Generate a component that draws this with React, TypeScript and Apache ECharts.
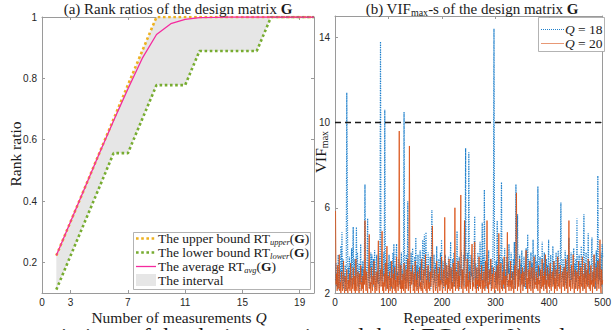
import React, { useEffect, useRef } from "react";
import * as echarts from "echarts";

// ---------- Panel (a): rank ratios ----------
const measurementsQ = [2, 3, 4, 5, 6, 7, 8, 9, 10, 11, 12, 13, 14, 15, 16, 17, 18, 19, 20];
const upperBound = [0.222, 0.333, 0.444, 0.556, 0.667, 0.778, 0.889, 1, 1, 1, 1, 1, 1, 1, 1, 1, 1, 1, 1];
const lowerBound = [0.111, 0.222, 0.333, 0.444, 0.556, 0.556, 0.667, 0.778, 0.778, 0.778, 0.889, 0.889, 0.889, 0.889, 0.889, 1, 1, 1, 1];
const averageRT = [0.222, 0.333, 0.444, 0.555, 0.662, 0.765, 0.865, 0.943, 0.978, 0.992, 0.998, 0.999, 1, 1, 1, 1, 1, 1, 1];
const qTicks = [1, 3, 7, 11, 15, 19];
const qTickLabels = ["0", "3", "7", "11", "15", "19"];
const rankTicks = [0.2, 0.4, 0.6, 0.8, 1];

// ---------- Panel (b): VIF max ----------
const vifTicks = [2, 6, 10, 14];
const vifThreshold = 10;
const vifQ18 = [
  2.6, 3.4, 2.3, 2.9, 2.2, 3.8, 2.5, 2.1, 3.1, 2.4, 4.2, 2.7, 4.85, 2.3, 3.6, 2.2, 2.9, 2.5, 3.3, 2.1, 2.8, 11.4, 7.0, 2.4, 3.2,
  2.2, 3.7, 2.5, 3.0, 2.3, 4.1, 2.6, 3.3, 5.1, 2.4, 2.9, 3.6, 2.2, 3.1, 5.1, 2.7, 3.9, 2.3, 2.8, 3.4, 2.1, 3.0, 4.3, 2.5, 3.2,
  2.4, 3.5, 2.2, 2.9, 3.8, 7.1, 2.6, 3.2, 2.3, 3.7, 5.5, 2.5, 3.0, 2.2, 3.4, 2.7, 3.9, 2.4, 3.8, 3.1, 2.3, 3.6, 2.6, 4.0, 2.9,
  2.2, 3.3, 3.8, 2.5, 3.0, 2.4, 3.7, 2.2, 4.4, 13.8, 2.6, 3.5, 2.3, 3.1, 2.8, 3.9, 2.4, 10.6, 3.2, 2.5, 3.6, 2.2, 3.0, 3.4, 2.6,
  3.8, 2.3, 2.9, 3.5, 2.2, 3.1, 2.7, 3.9, 2.4, 4.3, 2.6, 3.3, 2.2, 3.7, 4.3, 2.5, 3.0, 2.3, 3.6, 2.8, 2.4, 3.4, 2.2, 3.9, 2.7,
  3.1, 2.4, 3.6, 10.5, 2.6, 3.3, 2.2, 3.8, 2.9, 2.5, 6.3, 3.0, 2.3, 3.5, 2.7, 2.2, 3.9, 2.6, 3.2, 4.1, 2.4, 3.0, 2.3, 3.7, 2.8,
  4.6, 2.5, 3.3, 2.2, 3.8, 2.7, 3.1, 2.3, 4.0, 2.6, 3.4, 2.2, 3.6, 4.5, 2.4, 3.0, 4.75, 2.8, 3.5, 4.85, 2.3, 3.2, 2.6, 3.9, 2.4,
  3.0, 2.5, 3.7, 2.2, 3.3, 5.9, 2.7, 3.1, 2.3, 3.8, 2.5, 2.9, 3.4, 2.2, 4.2, 2.6, 3.2, 2.4, 3.6, 2.8, 2.3, 3.9, 2.5, 4.5, 3.0,
  2.4, 3.5, 2.2, 3.1, 2.7, 3.8, 2.3, 3.4, 2.6, 3.0, 2.2, 3.7, 2.5, 3.3, 2.8, 4.4, 2.4, 3.1, 2.2, 3.6, 2.7, 3.9, 2.3, 3.2, 2.5,
  3.4, 2.6, 4.9, 2.3, 3.0, 2.5, 3.7, 2.2, 3.3, 2.8, 4.0, 2.4, 3.1, 2.6, 3.8, 2.3, 5.4, 3.5, 8.8, 2.7, 3.2, 2.4, 3.9, 2.6, 8.6,
  2.5, 3.3, 2.2, 3.8, 2.8, 3.0, 2.4, 3.6, 2.6, 4.1, 5.6, 2.3, 3.4, 2.7, 3.1, 2.2, 3.9, 2.5, 3.2, 2.8, 4.4, 2.3, 3.5, 2.6, 5.3,
  2.4, 3.7, 2.9, 6.85, 2.5, 3.2, 2.2, 3.8, 2.6, 3.4, 2.3, 4.0, 2.7, 3.1, 2.4, 3.6, 2.2, 3.3, 2.8, 3.9, 6.1, 14.4, 2.5, 3.0, 2.3,
  3.5, 2.6, 5.4, 2.4, 3.2, 2.7, 3.8, 2.3, 3.0, 4.2, 7.2, 2.5, 3.6, 2.2, 3.3, 2.8, 4.1, 2.4, 3.1, 2.6, 3.7, 2.3, 3.4, 2.9, 4.3,
  2.5, 3.2, 2.3, 3.9, 2.7, 3.0, 2.4, 3.6, 2.6, 4.4, 2.2, 3.3, 7.1, 2.8, 3.5, 5.7, 2.4, 3.1, 2.6, 3.8, 2.3, 3.4, 2.7, 4.0, 2.5,
  3.0, 2.3, 3.7, 2.6, 3.3, 2.2, 4.1, 2.8, 3.2, 4.75, 2.4, 3.6, 2.5, 3.0, 2.3, 3.9, 2.7, 3.4, 2.2, 4.5, 2.6, 3.1, 2.4, 3.8, 2.9,
  2.3, 3.5, 2.6, 7.0, 2.4, 3.2, 2.8, 3.7, 2.2, 3.0, 2.5, 4.4, 2.7, 3.4, 2.3, 3.9, 2.6, 3.1, 2.2, 3.6, 2.8, 3.3, 2.4, 4.5, 2.6,
  3.2, 2.3, 3.8, 2.5, 3.0, 2.7, 4.2, 2.4, 3.5, 2.2, 3.3, 2.8, 3.9, 2.5, 3.1, 2.3, 4.0, 2.6, 3.4, 2.4, 3.7, 6.25, 2.5, 3.0, 2.7,
  3.6, 2.3, 3.2, 2.6, 4.0, 2.4, 3.5, 2.2, 3.8, 2.7, 3.1, 4.6, 2.5, 3.3, 2.3, 3.9, 2.6, 3.0, 2.4, 3.7, 4.1, 2.8, 3.4, 2.2, 3.6,
  2.5, 5.5, 2.7, 3.1, 2.3, 3.8, 2.6, 3.4, 2.4, 4.2, 2.8, 3.0, 2.2, 3.6, 5.7, 2.5, 3.3, 2.7, 3.9, 2.4, 3.1, 2.6, 4.8, 2.3, 3.5,
  2.8, 3.2, 2.4, 3.7, 4.6, 2.5, 3.0, 2.3, 3.8, 2.6, 3.4, 2.2, 4.0, 2.7, 3.1, 7.5, 2.4, 3.6, 2.6, 3.3, 2.5, 3.9, 2.3, 4.3, 3.7,
];
const vifQ20 = [
  5.85, 2.4, 2.9, 2.1, 3.3, 2.2, 2.6, 3.8, 2.1, 2.5, 2.0, 3.0, 2.3, 2.1, 2.7, 3.5, 2.2, 2.0, 2.8, 2.4, 2.1, 3.1, 2.3, 2.0, 2.6,
  2.2, 2.9, 2.1, 3.4, 2.3, 2.0, 2.7, 2.2, 3.2, 2.5, 2.1, 2.8, 2.0, 3.6, 2.3, 2.1, 2.6, 3.0, 2.2, 2.0, 2.9, 2.4, 3.3, 2.1, 2.5,
  2.2, 2.8, 2.0, 3.1, 2.4, 5.4, 2.6, 2.1, 3.0, 2.3, 2.0, 2.7, 3.4, 4.75, 2.2, 2.5, 2.0, 3.2, 2.3, 2.1, 2.8, 2.4, 3.5, 2.2, 2.0,
  2.6, 3.0, 2.1, 2.4, 3.3, 4.45, 2.2, 2.0, 2.7, 3.1, 2.3, 3.6, 4.9, 2.1, 2.5, 2.0, 2.9, 2.3, 3.4, 2.1, 2.6, 4.2, 2.2, 2.8, 2.0,
  2.5, 3.0, 2.1, 2.7, 2.3, 3.5, 2.0, 2.4, 2.9, 2.2, 3.2, 2.1, 2.6, 2.0, 3.7, 2.3, 2.8, 2.1, 3.0, 9.6, 2.4, 2.2, 3.3, 2.0, 2.6,
  2.2, 2.9, 2.1, 3.4, 2.4, 2.0, 2.7, 3.1, 2.2, 2.5, 3.6, 2.1, 2.8, 8.9, 2.3, 2.0, 3.0, 2.4, 2.6, 3.3, 2.1, 2.2, 2.9, 2.0, 3.5,
  2.3, 2.6, 2.1, 3.0, 2.4, 2.0, 2.8, 3.2, 2.2, 2.5, 2.1, 3.6, 2.3, 2.0, 2.7, 3.1, 2.2, 2.4, 3.8, 2.1, 2.6, 2.0, 2.9, 3.3, 2.2,
  2.5, 2.1, 3.0, 2.3, 2.7, 3.4, 5.15, 2.2, 2.0, 2.6, 3.1, 2.4, 2.1, 2.8, 3.5, 2.2, 2.0, 2.9, 2.3, 3.2, 2.1, 2.6, 2.4, 3.7, 2.2,
  2.0, 2.8, 3.1, 2.3, 5.55, 2.1, 2.6, 2.4, 3.3, 2.0, 2.7, 2.2, 3.6, 2.4, 2.1, 2.9, 3.2, 2.2, 2.5, 2.0, 3.4, 2.3, 2.7, 6.0, 2.1,
  2.6, 3.0, 2.2, 2.4, 3.5, 2.1, 2.8, 2.3, 3.9, 6.6, 2.2, 2.5, 3.1, 2.0, 2.7, 3.3, 5.4, 2.2, 2.4, 2.9, 2.1, 3.6, 2.3, 2.6, 2.0,
  3.0, 2.4, 2.2, 2.8, 3.4, 4.3, 2.1, 2.5, 2.3, 3.1, 4.4, 2.2, 2.7, 2.0, 3.2, 2.4, 2.6, 2.1, 3.7, 2.3, 2.9, 2.2, 2.5, 3.3, 2.0,
  2.6, 2.2, 3.0, 2.4, 2.1, 3.5, 2.3, 2.8, 5.4, 2.2, 2.5, 2.0, 3.1, 2.4, 2.7, 3.6, 2.1, 2.3, 2.9, 2.2, 3.2, 2.6, 2.0, 2.4, 3.0,
  2.2, 2.7, 3.3, 2.1, 2.5, 4.8, 2.3, 2.0, 2.9, 3.4, 2.2, 2.6, 2.1, 3.0, 2.4, 3.7, 2.2, 2.8, 2.0, 2.5, 3.1, 4.85, 2.3, 2.6, 2.1,
  2.9, 2.3, 3.5, 2.1, 2.6, 2.2, 3.0, 2.4, 2.0, 2.8, 3.3, 2.2, 4.2, 6.7, 2.5, 2.1, 3.1, 2.3, 2.7, 3.6, 2.2, 2.0, 2.9, 2.4, 3.2,
  2.1, 2.6, 3.0, 2.3, 2.5, 3.4, 4.0, 2.2, 2.7, 2.0, 3.1, 2.4, 2.2, 3.5, 2.6, 2.1, 2.9, 3.2, 2.3, 2.0, 2.8, 3.7, 2.2, 2.5, 2.4,
  3.0, 2.2, 2.7, 2.1, 3.3, 2.4, 2.6, 2.0, 3.1, 2.5, 2.2, 3.6, 2.3, 2.8, 2.1, 3.0, 2.4, 3.8, 2.2, 2.6, 2.0, 3.2, 2.5, 2.3, 2.9,
  2.2, 3.4, 2.4, 2.1, 2.8, 3.0, 2.3, 2.6, 3.5, 2.0, 2.7, 2.2, 3.1, 2.4, 2.1, 3.7, 2.5, 2.3, 2.9, 2.2, 3.3, 2.6, 2.0, 2.8, 3.0,
  2.3, 2.5, 3.2, 2.1, 2.7, 3.6, 2.2, 2.4, 3.0, 2.0, 3.4, 5.4, 2.3, 2.6, 2.1, 2.9, 3.3, 2.2, 2.5, 3.8, 2.4, 2.0, 2.7, 3.1, 2.2,
  2.6, 3.0, 2.1, 2.4, 3.5, 2.2, 2.8, 2.0, 3.2, 2.5, 2.3, 3.7, 2.1, 2.6, 2.9, 2.2, 3.4, 2.4, 2.0, 2.7, 3.1, 2.3, 3.6, 2.5, 2.2,
  2.9, 2.1, 3.3, 2.4, 2.6, 2.0, 3.0, 2.3, 3.8, 2.2, 2.5, 2.7, 3.2, 2.1, 2.4, 3.5, 2.6, 2.2, 2.8, 4.5, 2.3, 2.0, 3.1, 2.4, 2.6,
];

const SERIF = "'Liberation Serif', 'DejaVu Serif', serif";
const SANS = "'Liberation Sans', Arial, sans-serif";
const AXIS_COLOR = "#9a9a9a";
const TICK_TEXT = "#262626";
const INK = "#1a1a1a";

const C_UPPER = "#EDB120";
const C_LOWER = "#77AC30";
const C_AVG = "#F52A9E";
const C_BAND = "#E6E6E6";
const C_Q18 = "#1F80CC";
const C_Q20 = "#D95319";

const TITLE_FS = 15;
const NAME_FS = 15.5;
const LEG_FS = 13.5;

function baseAxis(extra: any) {
  return {
    axisLine: { show: true, onZero: false, lineStyle: { color: AXIS_COLOR, width: 1 } },
    axisTick: { show: true, inside: true, length: 3, lineStyle: { color: AXIS_COLOR } },
    splitLine: { show: false },
    axisLabel: { show: true, fontFamily: SANS, fontSize: 10, color: TICK_TEXT },
    ...extra,
  };
}

export default function App() {
  const ref = useRef<HTMLDivElement>(null);

  useEffect(() => {
    if (!ref.current) return;
    const chart = echarts.init(ref.current, undefined, { renderer: "svg" });

    const pairs = (xs: number[], ys: number[]) => xs.map((x, i) => [x, ys[i]]);
    const idx = (ys: number[]) => ys.map((y, i) => [i + 1, y]);

    const option: any = {
      animation: false,
      backgroundColor: "#ffffff",
      grid: [
        { left: 42, top: 17, width: 272, height: 276 },
        { left: 335, top: 16, width: 273, height: 277 },
      ],
      xAxis: [
        baseAxis({
          gridIndex: 0, type: "value", min: 1, max: 20, position: "bottom",
          axisTick: { show: true, inside: true, length: 3, lineStyle: { color: AXIS_COLOR }, customValues: qTicks },
          axisLabel: {
            show: true, fontFamily: SANS, fontSize: 10, color: TICK_TEXT, margin: 4,
            customValues: qTicks,
            formatter: (v: number) => qTickLabels[qTicks.indexOf(v)] ?? String(v),
          },
        }),
        baseAxis({
          gridIndex: 0, type: "value", min: 1, max: 20, position: "top",
          axisTick: { show: true, inside: true, length: 3, lineStyle: { color: AXIS_COLOR }, customValues: qTicks },
          axisLabel: { show: false },
        }),
        baseAxis({
          gridIndex: 1, type: "value", min: 0, max: 500, interval: 100, position: "bottom",
          axisLabel: { show: true, fontFamily: SANS, fontSize: 10, color: TICK_TEXT, margin: 4 },
        }),
        baseAxis({
          gridIndex: 1, type: "value", min: 0, max: 500, interval: 100, position: "top",
          axisLabel: { show: false },
        }),
      ],
      yAxis: [
        baseAxis({
          gridIndex: 0, type: "value", min: 0.1, max: 1, position: "left",
          axisTick: { show: true, inside: true, length: 3, lineStyle: { color: AXIS_COLOR }, customValues: rankTicks },
          axisLabel: {
            show: true, fontFamily: SANS, fontSize: 10, color: TICK_TEXT, margin: 5,
            customValues: rankTicks, formatter: (v: number) => String(Math.round(v * 10) / 10),
          },
        }),
        baseAxis({
          gridIndex: 0, type: "value", min: 0.1, max: 1, position: "right",
          axisTick: { show: true, inside: true, length: 3, lineStyle: { color: AXIS_COLOR }, customValues: rankTicks },
          axisLabel: { show: false },
        }),
        baseAxis({
          gridIndex: 1, type: "value", min: 2, max: 15, position: "left",
          axisTick: { show: true, inside: true, length: 3, lineStyle: { color: AXIS_COLOR }, customValues: vifTicks },
          axisLabel: { show: true, fontFamily: SANS, fontSize: 10, color: TICK_TEXT, margin: 5, customValues: vifTicks },
        }),
        baseAxis({
          gridIndex: 1, type: "value", min: 2, max: 15, position: "right",
          axisTick: { show: true, inside: true, length: 3, lineStyle: { color: AXIS_COLOR }, customValues: vifTicks },
          axisLabel: { show: false },
        }),
      ],
      series: [
        {
          name: "The interval", type: "custom", xAxisIndex: 0, yAxisIndex: 0, silent: true,
          data: [[measurementsQ[0], lowerBound[0]]],
          renderItem: (params: any, api: any) => {
            if (params.dataIndex !== 0) return null;
            const top = measurementsQ.map((q, i) => api.coord([q, upperBound[i]]));
            const bottom = measurementsQ.map((q, i) => api.coord([q, lowerBound[i]])).reverse();
            return { type: "polygon", shape: { points: top.concat(bottom) }, style: { fill: C_BAND } };
          },
        },
        {
          name: "upper", type: "line", xAxisIndex: 0, yAxisIndex: 0,
          data: pairs(measurementsQ, upperBound), symbol: "none",
          lineStyle: { color: C_UPPER, width: 2.6, type: "dotted" },
        },
        {
          name: "lower", type: "line", xAxisIndex: 0, yAxisIndex: 0,
          data: pairs(measurementsQ, lowerBound), symbol: "none",
          lineStyle: { color: C_LOWER, width: 2.6, type: "dotted" },
        },
        {
          name: "average", type: "line", xAxisIndex: 0, yAxisIndex: 0,
          data: pairs(measurementsQ, averageRT), symbol: "none",
          lineStyle: { color: C_AVG, width: 1.3 },
        },
        {
          name: "Q = 18", type: "line", xAxisIndex: 2, yAxisIndex: 2,
          data: idx(vifQ18), symbol: "none",
          lineStyle: { color: C_Q18, width: 1.2, type: "dotted" },
        },
        {
          name: "Q = 20", type: "line", xAxisIndex: 2, yAxisIndex: 2,
          data: idx(vifQ20), symbol: "none",
          lineStyle: { color: C_Q20, width: 1, opacity: 0.85 },
        },
        {
          name: "threshold", type: "line", xAxisIndex: 2, yAxisIndex: 2,
          data: [[0, vifThreshold], [500, vifThreshold]], symbol: "none",
          lineStyle: { color: INK, width: 1.5, type: [6, 4] },
        },
      ],
      graphic: [
        // titles
        {
          type: "text", x: 178, y: 9, z: 100,
          style: {
            text: "{n|(a) Rank ratios of the design matrix }{b|G}",
            align: "center", verticalAlign: "middle", fill: INK,
            rich: {
              n: { fontFamily: SERIF, fontSize: TITLE_FS, fill: INK },
              b: { fontFamily: SERIF, fontSize: TITLE_FS, fontWeight: "bold", fill: INK },
            },
          },
        },
        {
          type: "text", x: 472, y: 9, z: 100,
          style: {
            text: "{n|(b) VIF}{s|max}{n|-s of the design matrix }{b|G}",
            align: "center", verticalAlign: "middle",
            rich: {
              n: { fontFamily: SERIF, fontSize: TITLE_FS, fill: INK, lineHeight: 17, verticalAlign: "middle" },
              s: { fontFamily: SERIF, fontSize: 10, fill: INK, lineHeight: 17, verticalAlign: "bottom" },
              b: { fontFamily: SERIF, fontSize: TITLE_FS, fontWeight: "bold", fill: INK, lineHeight: 17, verticalAlign: "middle" },
            },
          },
        },
        // axis names
        {
          type: "text", x: 179, y: 317, z: 100,
          style: {
            text: "{n|Number of measurements }{i|Q}",
            align: "center", verticalAlign: "middle",
            rich: {
              n: { fontFamily: SERIF, fontSize: NAME_FS, fill: INK },
              i: { fontFamily: SERIF, fontSize: NAME_FS, fontStyle: "italic", fill: INK },
            },
          },
        },
        {
          type: "text", x: 472, y: 317, z: 100,
          style: {
            text: "Repeated experiments", fontFamily: SERIF, fontSize: NAME_FS, fill: INK,
            align: "center", verticalAlign: "middle",
          },
        },
        {
          type: "text", x: 15, y: 154, rotation: Math.PI / 2, z: 100,
          style: {
            text: "Rank ratio", fontFamily: SERIF, fontSize: NAME_FS, fill: INK,
            align: "center", verticalAlign: "middle",
          },
        },
        {
          type: "text", x: 320, y: 152, rotation: Math.PI / 2, z: 100,
          style: {
            text: "{n|VIF}{s|max}",
            align: "center", verticalAlign: "middle",
            rich: {
              n: { fontFamily: SERIF, fontSize: NAME_FS, fill: INK, lineHeight: 18, verticalAlign: "middle" },
              s: { fontFamily: SERIF, fontSize: 10, fill: INK, lineHeight: 18, verticalAlign: "bottom" },
            },
          },
        },
        // left legend
        {
          type: "group", z: 100,
          children: [
            { type: "rect", z: 100, shape: { x: 133.5, y: 232.5, width: 177, height: 57 }, style: { fill: "#ffffff", stroke: "#a0a0a0", lineWidth: 0.8 } },
            { type: "line", z: 101, shape: { x1: 136, y1: 238.5, x2: 156, y2: 238.5 }, style: { stroke: C_UPPER, lineWidth: 2.6, lineDash: [2.6, 2.6] } },
            { type: "line", z: 101, shape: { x1: 136, y1: 252.5, x2: 156, y2: 252.5 }, style: { stroke: C_LOWER, lineWidth: 2.6, lineDash: [2.6, 2.6] } },
            { type: "line", z: 101, shape: { x1: 136, y1: 266.5, x2: 156, y2: 266.5 }, style: { stroke: C_AVG, lineWidth: 1.3 } },
            { type: "rect", z: 101, shape: { x: 136, y: 274, width: 20, height: 12 }, style: { fill: C_BAND } },
            ...[
              ["The upper bound RT", "upper", 238.5],
              ["The lower bound RT", "lower", 252.5],
              ["The average RT", "avg", 266.5],
            ].map(([a, s, y]) => ({
              type: "text", x: 158, y: y as number, z: 101,
              style: {
                text: `{n|${a}}{s|${s}}{n|(}{b|G}{n|)}`,
                verticalAlign: "middle", align: "left",
                rich: {
                  n: { fontFamily: SERIF, fontSize: LEG_FS, fill: INK, lineHeight: 15, verticalAlign: "middle" },
                  s: { fontFamily: SERIF, fontSize: 8.5, fontStyle: "italic", fill: INK, lineHeight: 15, verticalAlign: "bottom" },
                  b: { fontFamily: SERIF, fontSize: LEG_FS, fontWeight: "bold", fill: INK, lineHeight: 15, verticalAlign: "middle" },
                },
              },
            })),
            {
              type: "text", x: 158, y: 280.5, z: 101,
              style: { text: "The interval", fontFamily: SERIF, fontSize: LEG_FS, fill: INK, verticalAlign: "middle", align: "left" },
            },
          ],
        },
        // right legend
        {
          type: "group", z: 100,
          children: [
            { type: "rect", z: 100, shape: { x: 538.5, y: 17.5, width: 66, height: 34 }, style: { fill: "#ffffff", stroke: "#a0a0a0", lineWidth: 0.8 } },
            { type: "line", z: 101, shape: { x1: 541, y1: 29.5, x2: 564, y2: 29.5 }, style: { stroke: C_Q18, lineWidth: 1, lineDash: [1, 1] } },
            { type: "line", z: 101, shape: { x1: 541, y1: 43.5, x2: 564, y2: 43.5 }, style: { stroke: C_Q20, lineWidth: 1, opacity: 0.6 } },
            ...[["18", 29.5], ["20", 43.5]].map(([n, y]) => ({
              type: "text", x: 565, y: y as number, z: 101,
              style: {
                text: `{i|Q}{n| = ${n}}`, verticalAlign: "middle", align: "left",
                rich: {
                  i: { fontFamily: SERIF, fontSize: LEG_FS, fontStyle: "italic", fill: INK },
                  n: { fontFamily: SERIF, fontSize: LEG_FS, fill: INK },
                },
              },
            })),
          ],
        },
        // clipped caption line at the bottom
        {
          type: "text", x: 30, y: 324, z: 100,
          style: {
            text: "variations of the design matrix and the AEC (σ = 0) and",
            fontFamily: SERIF, fontSize: 24, fill: INK, align: "left", verticalAlign: "top",
          },
        },
      ],
    };

    chart.setOption(option);
    return () => chart.dispose();
  }, []);

  return (
    <div
      ref={ref}
      style={{ position: "fixed", left: 0, top: 0, width: 614, height: 330, background: "#fff" }}
    />
  );
}
